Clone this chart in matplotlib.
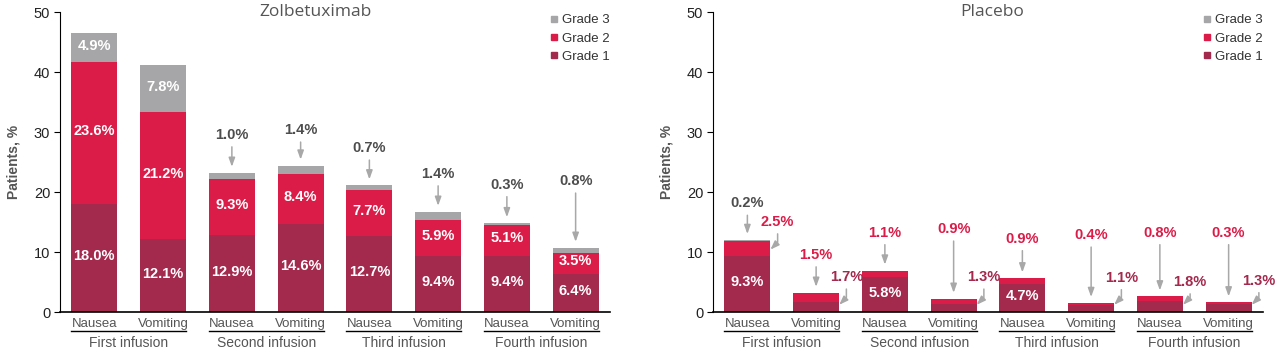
import matplotlib.pyplot as plt
from matplotlib.lines import Line2D

plt.rcParams['font.family'] = ['Liberation Sans', 'DejaVu Sans']

# categories
bars = ['Nausea', 'Vomiting'] * 4
infusions = ['First infusion', 'Second infusion', 'Third infusion', 'Fourth infusion']
grades = ['Grade 3', 'Grade 2', 'Grade 1']

# zolbetuximab, % of patients per grade
zol_g1 = [18.0, 12.1, 12.9, 14.6, 12.7, 9.4, 9.4, 6.4]
zol_g2 = [23.6, 21.2, 9.3, 8.4, 7.7, 5.9, 5.1, 3.5]
zol_g3 = [4.9, 7.8, 1.0, 1.4, 0.7, 1.4, 0.3, 0.8]

# placebo, % of patients per grade
pbo_g1 = [9.3, 1.7, 5.8, 1.3, 4.7, 1.1, 1.8, 1.3]
pbo_g2 = [2.5, 1.5, 1.1, 0.9, 0.9, 0.4, 0.8, 0.3]
pbo_g3 = [0.2, 0, 0, 0, 0, 0, 0, 0]

# callout layout: (bar, grade, text height) and (bar, grade, text height, arrow end)
zol_top = [(2, 3, 29.5), (3, 3, 30.3), (4, 3, 27.3), (5, 3, 23.0), (6, 3, 21.2), (7, 3, 21.8)]
zol_side = []
pbo_top = [(0, 3, 18.1), (1, 2, 9.5), (2, 2, 13.2), (3, 2, 13.8),
           (4, 2, 12.2), (5, 2, 12.8), (6, 2, 13.2), (7, 2, 13.2)]
pbo_side = [(0, 2, 15.0, 10.4), (1, 1, 5.8, 1.2), (3, 1, 5.8, 1.2),
            (5, 1, 5.7, 1.2), (6, 1, 5.0, 1.2), (7, 1, 5.2, 1.2)]

c1, c2, c3 = '#a3294d', '#dc1c48', '#a6a6a8'
label_col = {1: c1, 2: c2, 3: '#4d4d4d'}
arrow_col = '#a8a8a8'
text_gray = '#555555'
W = 0.67


def draw(ax, g1, g2, g3, title, title_x, top, side):
    x = list(range(len(bars)))
    bottom2 = g1
    bottom3 = [a + b for a, b in zip(g1, g2)]
    tops = [a + b for a, b in zip(bottom3, g3)]
    ax.bar(x, g1, W, color=c1)
    ax.bar(x, g2, W, bottom=bottom2, color=c2)
    ax.bar(x, g3, W, bottom=bottom3, color=c3)

    # labels inside segments
    for i in x:
        for val, base in [(g1[i], 0), (g2[i], bottom2[i]), (g3[i], bottom3[i])]:
            if val >= 3:
                ax.text(i, base + val / 2 + 0.3, f'{val:.1f}%', color='white', fontsize=10.5,
                        fontweight='bold', ha='center', va='center')

    seg = {1: g1, 2: g2, 3: g3}
    for i, g, ty in top:
        ax.annotate(f'{seg[g][i]:.1f}%', xy=(i, tops[i] + 1.0), xytext=(i, ty),
                    color=label_col[g], fontsize=10.5, fontweight='bold', ha='center', va='center',
                    arrowprops=dict(arrowstyle='-|>,head_length=0.5,head_width=0.18', color=arrow_col,
                                    lw=1.1, shrinkA=1.5, shrinkB=0))
    for i, g, ty, ay in side:
        ax.annotate(f'{seg[g][i]:.1f}%', xy=(i + W / 2, ay), xytext=(i + 0.44, ty),
                    color=label_col[g], fontsize=10.5, fontweight='bold', ha='center', va='center',
                    arrowprops=dict(arrowstyle='-|>,head_length=0.5,head_width=0.18', color=arrow_col,
                                    lw=1.1, shrinkA=1.5, shrinkB=0,
                                    connectionstyle='angle,angleA=90,angleB=45,rad=0'))

    ax.set_xlim(-0.5, 7.5)
    ax.set_ylim(0, 50)
    ax.set_yticks([0, 10, 20, 30, 40, 50])
    ax.set_xticks(x, bars)
    ax.tick_params(axis='x', length=0, pad=4, labelsize=9.5, labelcolor=text_gray)
    ax.tick_params(axis='y', length=4, pad=3, labelsize=10.5, labelcolor='#222222')
    for s in ['top', 'right']:
        ax.spines[s].set_visible(False)
    ax.spines['bottom'].set_linewidth(1.2)
    ax.set_ylabel('Patients, %', fontsize=10, fontweight='bold', color=text_gray)
    ax.yaxis.set_label_coords(-0.072, 0.5)

    for k, name in enumerate(infusions):
        ax.plot([2 * k - W / 2, 2 * k + 1 + W / 2], [-3.2, -3.2], color='black', lw=1, clip_on=False)
        ax.text(2 * k + 0.5, -5.2, name, fontsize=10, color=text_gray, ha='center', va='center')

    ax.text(title_x, 1.0, title, transform=ax.transAxes, fontsize=12.5, color=text_gray,
            family='Open Sans', ha='center', va='center')

    handles = [Line2D([], [], marker='s', ls='', markersize=5, color=c) for c in [c3, c2, c1]]
    ax.legend(handles, grades, loc='upper right', bbox_to_anchor=(1.0, 0.993), frameon=False,
              fontsize=9.5, handlelength=0.6, handletextpad=0.3, labelspacing=0.45, borderpad=0,
              borderaxespad=0, labelcolor='#333333')


fig = plt.figure(figsize=(12.8, 3.6), dpi=100)
ax1 = fig.add_axes([60 / 1280, 48 / 360, 550 / 1280, 300 / 360])
ax2 = fig.add_axes([713 / 1280, 48 / 360, 550 / 1280, 300 / 360])

draw(ax1, zol_g1, zol_g2, zol_g3, 'Zolbetuximab', 0.464, zol_top, zol_side)
draw(ax2, pbo_g1, pbo_g2, pbo_g3, 'Placebo', 0.507, pbo_top, pbo_side)

fig.savefig('out.png', dpi=100)
